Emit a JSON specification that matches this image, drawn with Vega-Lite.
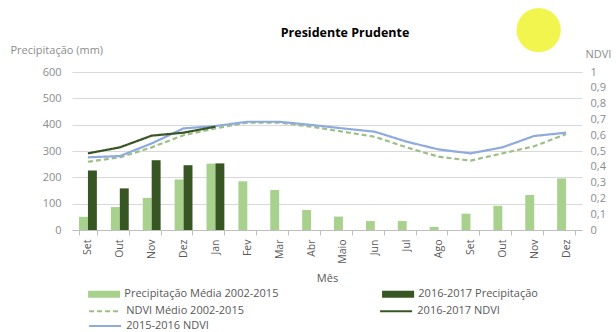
{
  "$schema": "https://vega.github.io/schema/vega-lite/v6.json",
  "width": 510,
  "height": 158,
  "autosize": {"type": "none"},
  "padding": {"left": 72, "top": 72, "right": 34, "bottom": 102},
  "background": "white",
  "config": {"font": "Open Sans", "view": {"stroke": null}},
  "title": {"text": "Presidente Prudente", "fontSize": 12.5, "fontWeight": "bold", "color": "#000000", "anchor": "middle", "dx": 18, "offset": 4, "dy": 36},
  "datasets": {
    "precipitacao": [
      {"k": "01 Set", "serie": "Precipitação Média 2002-2015", "v": 50},
      {"k": "02 Out", "serie": "Precipitação Média 2002-2015", "v": 87},
      {"k": "03 Nov", "serie": "Precipitação Média 2002-2015", "v": 122},
      {"k": "04 Dez", "serie": "Precipitação Média 2002-2015", "v": 192},
      {"k": "05 Jan", "serie": "Precipitação Média 2002-2015", "v": 252},
      {"k": "06 Fev", "serie": "Precipitação Média 2002-2015", "v": 185},
      {"k": "07 Mar", "serie": "Precipitação Média 2002-2015", "v": 152},
      {"k": "08 Abr", "serie": "Precipitação Média 2002-2015", "v": 76},
      {"k": "09 Maio", "serie": "Precipitação Média 2002-2015", "v": 51},
      {"k": "10 Jun", "serie": "Precipitação Média 2002-2015", "v": 34},
      {"k": "11 Jul", "serie": "Precipitação Média 2002-2015", "v": 34},
      {"k": "12 Ago", "serie": "Precipitação Média 2002-2015", "v": 12},
      {"k": "13 Set", "serie": "Precipitação Média 2002-2015", "v": 62},
      {"k": "14 Out", "serie": "Precipitação Média 2002-2015", "v": 92},
      {"k": "15 Nov", "serie": "Precipitação Média 2002-2015", "v": 133},
      {"k": "16 Dez", "serie": "Precipitação Média 2002-2015", "v": 196},
      {"k": "01 Set", "serie": "2016-2017 Precipitação", "v": 226},
      {"k": "02 Out", "serie": "2016-2017 Precipitação", "v": 158},
      {"k": "03 Nov", "serie": "2016-2017 Precipitação", "v": 265},
      {"k": "04 Dez", "serie": "2016-2017 Precipitação", "v": 246},
      {"k": "05 Jan", "serie": "2016-2017 Precipitação", "v": 253}
    ],
    "ndvi": [
      {"k": "01 Set", "serie": "NDVI Médio 2002-2015", "v": 0.432},
      {"k": "02 Out", "serie": "NDVI Médio 2002-2015", "v": 0.46},
      {"k": "03 Nov", "serie": "NDVI Médio 2002-2015", "v": 0.523},
      {"k": "04 Dez", "serie": "NDVI Médio 2002-2015", "v": 0.6},
      {"k": "05 Jan", "serie": "NDVI Médio 2002-2015", "v": 0.643},
      {"k": "06 Fev", "serie": "NDVI Médio 2002-2015", "v": 0.68},
      {"k": "07 Mar", "serie": "NDVI Médio 2002-2015", "v": 0.68},
      {"k": "08 Abr", "serie": "NDVI Médio 2002-2015", "v": 0.654},
      {"k": "09 Maio", "serie": "NDVI Médio 2002-2015", "v": 0.622},
      {"k": "10 Jun", "serie": "NDVI Médio 2002-2015", "v": 0.59},
      {"k": "11 Jul", "serie": "NDVI Médio 2002-2015", "v": 0.523},
      {"k": "12 Ago", "serie": "NDVI Médio 2002-2015", "v": 0.464},
      {"k": "13 Set", "serie": "NDVI Médio 2002-2015", "v": 0.439},
      {"k": "14 Out", "serie": "NDVI Médio 2002-2015", "v": 0.485},
      {"k": "15 Nov", "serie": "NDVI Médio 2002-2015", "v": 0.53},
      {"k": "16 Dez", "serie": "NDVI Médio 2002-2015", "v": 0.607},
      {"k": "01 Set", "serie": "2015-2016 NDVI", "v": 0.46},
      {"k": "02 Out", "serie": "2015-2016 NDVI", "v": 0.468},
      {"k": "03 Nov", "serie": "2015-2016 NDVI", "v": 0.548},
      {"k": "04 Dez", "serie": "2015-2016 NDVI", "v": 0.643},
      {"k": "05 Jan", "serie": "2015-2016 NDVI", "v": 0.658},
      {"k": "06 Fev", "serie": "2015-2016 NDVI", "v": 0.685},
      {"k": "07 Mar", "serie": "2015-2016 NDVI", "v": 0.685},
      {"k": "08 Abr", "serie": "2015-2016 NDVI", "v": 0.665},
      {"k": "09 Maio", "serie": "2015-2016 NDVI", "v": 0.643},
      {"k": "10 Jun", "serie": "2015-2016 NDVI", "v": 0.622},
      {"k": "11 Jul", "serie": "2015-2016 NDVI", "v": 0.559},
      {"k": "12 Ago", "serie": "2015-2016 NDVI", "v": 0.51},
      {"k": "13 Set", "serie": "2015-2016 NDVI", "v": 0.485},
      {"k": "14 Out", "serie": "2015-2016 NDVI", "v": 0.523},
      {"k": "15 Nov", "serie": "2015-2016 NDVI", "v": 0.595},
      {"k": "16 Dez", "serie": "2015-2016 NDVI", "v": 0.616},
      {"k": "01 Set", "serie": "2016-2017 NDVI", "v": 0.485},
      {"k": "02 Out", "serie": "2016-2017 NDVI", "v": 0.523},
      {"k": "03 Nov", "serie": "2016-2017 NDVI", "v": 0.597},
      {"k": "04 Dez", "serie": "2016-2017 NDVI", "v": 0.616},
      {"k": "05 Jan", "serie": "2016-2017 NDVI", "v": 0.654}
    ],
    "marcador": [
      {"k": "15 Nov", "serie": "2016-2017 Precipitação", "v": 759}
    ]
  },
  "layer": [
    {
      "data": {"name": "precipitacao"},
      "mark": {"type": "bar"},
      "encoding": {
        "x": {
          "field": "k", "type": "nominal",
          "scale": {"paddingInner": 0.44, "paddingOuter": 0.22},
          "axis": {
            "title": "Mês", "labelExpr": "isString(datum.value) && datum.value != 'undefined' ? substring(datum.value, 3) : ''", "labelAngle": -90,
            "tickBand": "extent", "domainColor": "#bfbfbf", "tickColor": "#bfbfbf", "tickSize": 5,
            "labelPadding": 4, "labelFontSize": 10.5, "labelColor": "#595959",
            "titleFontSize": 11, "titleColor": "#595959", "titleFontWeight": "normal", "titlePadding": 9
          }
        },
        "xOffset": {"field": "serie", "type": "nominal", "scale": {"domain": ["Precipitação Média 2002-2015", "2016-2017 Precipitação"], "paddingInner": 0, "paddingOuter": 0}},
        "y": {
          "field": "v", "type": "quantitative",
          "scale": {"domain": [0, 600]},
          "axis": {
            "title": "Precipitação (mm)", "titleAngle": 0, "titleAlign": "left", "titleX": -62, "titleY": -19,
            "titleBaseline": "alphabetic", "titleFontWeight": "normal", "titleColor": "#8c8c8c", "titleFontSize": 11,
            "values": [0, 100, 200, 300, 400, 500, 600], "domain": false, "ticks": false, "labelPadding": 11,
            "labelColor": "#8c8c8c", "labelFontSize": 11, "gridColor": "#d9d9d9"
          }
        },
        "fill": {
          "field": "serie", "type": "nominal",
          "scale": {"domain": ["Precipitação Média 2002-2015", "2016-2017 Precipitação"], "range": ["#a9d18e", "#375623"]},
          "legend": {
            "title": null, "orient": "none", "legendX": 26.6, "legendY": 216.5, "direction": "horizontal", "columns": 2,
            "columnPadding": 103, "symbolType": "M-3,-0.66H3V0.66H-3Z", "symbolSize": 114, "symbolStrokeWidth": 0,
            "labelFontSize": 11, "labelColor": "#595959", "labelOffset": 14.7, "rowPadding": 3
          }
        }
      }
    },
    {
      "data": {"name": "ndvi"},
      "mark": {"type": "line", "strokeWidth": 2.2},
      "encoding": {
        "x": {"field": "k", "type": "nominal"},
        "y": {
          "field": "v", "type": "quantitative",
          "scale": {"domain": [0, 1]},
          "axis": {
            "orient": "right", "title": "NDVI", "titleAngle": 0, "titleAlign": "left", "titleX": 3, "titleY": -15,
            "titleBaseline": "alphabetic", "titleFontWeight": "normal", "titleColor": "#8c8c8c", "titleFontSize": 11,
            "values": [0, 0.1, 0.2, 0.3, 0.4, 0.5, 0.6, 0.7, 0.8, 0.9, 1], "grid": false, "domain": false, "ticks": false,
            "labelPadding": 8, "labelColor": "#8c8c8c", "labelFontSize": 11,
            "labelExpr": "replace(format(datum.value, '.1~f'), '.', ',')"
          }
        },
        "stroke": {
          "field": "serie", "type": "nominal",
          "scale": {"domain": ["NDVI Médio 2002-2015", "2016-2017 NDVI", "2015-2016 NDVI"], "range": ["#9cbf86", "#375623", "#8faadc"]},
          "legend": {
            "title": null, "orient": "none", "legendX": 26.6, "legendY": 232.5, "direction": "horizontal", "columns": 2,
            "columnPadding": 131, "symbolType": "M-3,0H3", "symbolSize": 114, "symbolStrokeWidth": 2,
            "labelFontSize": 11, "labelColor": "#595959", "labelOffset": 14.7, "rowPadding": 3
          }
        },
        "strokeDash": {
          "field": "serie", "type": "nominal",
          "scale": {"domain": ["NDVI Médio 2002-2015", "2016-2017 NDVI", "2015-2016 NDVI"], "range": [[5, 3], [1, 0], [1, 0]]},
          "legend": {
            "title": null, "orient": "none", "legendX": 26.6, "legendY": 232.5, "direction": "horizontal", "columns": 2,
            "columnPadding": 131, "symbolType": "M-3,0H3", "symbolSize": 114, "symbolStrokeWidth": 2,
            "labelFontSize": 11, "labelColor": "#595959", "labelOffset": 14.7, "rowPadding": 3
          }
        }
      }
    },
    {
      "data": {"name": "marcador"},
      "mark": {"type": "circle", "size": 1960, "color": "#f2f54e", "opacity": 1, "clip": false},
      "encoding": {
        "x": {"field": "k", "type": "nominal"},
        "xOffset": {"field": "serie", "type": "nominal"},
        "y": {"field": "v", "type": "quantitative", "scale": {"domain": [0, 600]}, "axis": null}
      }
    }
  ],
  "resolve": {"scale": {"y": "independent"}, "axis": {"y": "independent"}}
}
